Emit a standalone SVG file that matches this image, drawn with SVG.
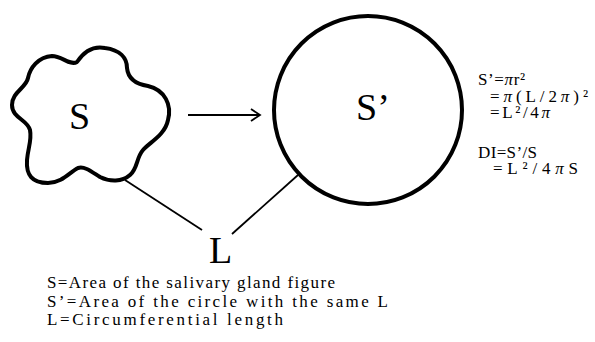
<svg xmlns="http://www.w3.org/2000/svg" width="595" height="342" viewBox="0 0 595 342">
<style>
.shape{fill:none;stroke:#000;stroke-width:4;stroke-linejoin:round}
.conn{fill:none;stroke:#000;stroke-width:1.8}
text{font-family:'Liberation Serif','Times New Roman',Times,serif;fill:#000}
.big{font-size:38px}
.sm{font-size:17px}
.it{font-style:italic}
</style>
<rect width="595" height="342" fill="#fff"/>
<g id="blob-S">
<path class="shape" d="M77,62 C85,50 95,46 105,48 C120,50 127,58 127,68 C128,78 135,84 148,86 C165,90 172,105 168,120 C165,135 150,142 143,150 C136,158 138,168 130,175 C122,182 110,182 100,177 C92,172 85,166 78,168 C70,172 62,183 48,183 C32,183 26,175 27,160 C28,148 32,140 30,130 C28,120 12,118 12,105 C12,92 26,88 28,78 C30,68 38,57 52,56 C62,56 70,66 77,62 Z"/>
<text class="big" x="69" y="129">S</text>
</g>
<g id="circle-S2">
<circle class="shape" cx="368" cy="110" r="94"/>
<text class="big" x="356" y="120">S’</text>
</g>
<g id="label-L">
<text class="big" x="209" y="263">L</text>
</g>
<g id="connectors">
<line class="conn" x1="188" y1="115" x2="259" y2="115"/>
<polyline class="conn" points="251,109 260,115 251,121"/>
<line class="conn" x1="125" y1="180" x2="202" y2="230"/>
<line class="conn" x1="298" y1="175" x2="232" y2="234"/>
</g>
<g id="formulas">
<text class="sm" x="478" y="85" textLength="47" lengthAdjust="spacing">S’=<tspan class="it">π</tspan>r²</text>
<text class="sm" x="490" y="102" textLength="98" lengthAdjust="spacing">=<tspan class="it">π</tspan>(L/2<tspan class="it">π</tspan>)²</text>
<text class="sm" x="490" y="118" textLength="60" lengthAdjust="spacing">=L²/4<tspan class="it">π</tspan></text>
<text class="sm" x="478" y="158" textLength="59" lengthAdjust="spacing">DI=S’/S</text>
<text class="sm" x="493" y="174" textLength="85" lengthAdjust="spacing">=L²/4<tspan class="it">π</tspan>S</text>
</g>
<g id="legend">
<text class="sm" x="47" y="288" textLength="288" lengthAdjust="spacing">S=Area of the salivary gland figure</text>
<text class="sm" x="47" y="307" textLength="341" lengthAdjust="spacing">S’=Area of the circle with the same L</text>
<text class="sm" x="47" y="325" textLength="236" lengthAdjust="spacing">L=Circumferential length</text>
</g>
</svg>
